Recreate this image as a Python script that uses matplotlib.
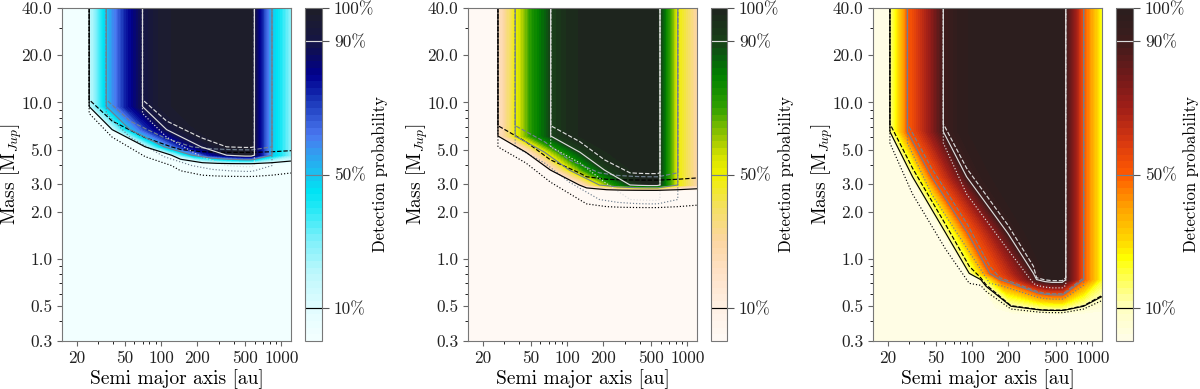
import numpy as np
import matplotlib
matplotlib.use('Agg')
import matplotlib.pyplot as plt
from matplotlib.colors import LinearSegmentedColormap
from matplotlib.ticker import NullFormatter

plt.rcParams['font.family'] = 'serif'
plt.rcParams['font.serif'] = ['cmr10']
plt.rcParams['mathtext.fontset'] = 'cm'
plt.rcParams['axes.formatter.use_mathtext'] = True
plt.rcParams['axes.unicode_minus'] = False

"""
Data read off the maps. Each map is a grid: rows are masses (bottom -> top),
columns carry the detection probability seen at high mass, and each row
holds the separations of those columns (the inner edge moves out at low mass).
"""
# ---- left map (blue) ----
blue_prob = [0, 0, 0.18, 0.5, 0.75, 0.9, 0.96, 1.0, 1.0, 0.9, 0.5, 0.27]
blue_on = [0, 0, 1, 1, 1, 1, 1]
blue_sep = [
    [15, 160, 170, 230, 300, 380, 440, 510, 560, 596, 834, 1200],
    [15, 160, 170, 230, 300, 380, 440, 510, 560, 596, 834, 1200],
    [15, 118, 125, 180, 250, 350, 430, 500, 560, 596, 834, 1200],
    [15, 71, 76, 106, 150, 215, 280, 380, 560, 596, 834, 1200],
    [15, 38, 40, 55, 79, 111, 150, 237, 560, 596, 834, 1200],
    [15, 25.0, 25.4, 35, 50, 70, 95, 150, 560, 596, 834, 1200],
    [15, 25.0, 25.4, 35, 50, 70, 95, 150, 560, 596, 834, 1200],
]
blue_mass = [0.3, 4.0, 4.6, 5.2, 6.7, 9.4, 40]
blue_mass_dash = [0.3, 4.75, 5.2, 5.95, 7.6, 10.4, 40]
blue_mass_dot = [0.3, 3.3, 3.95, 4.5, 6.0, 8.5, 40]

# ---- middle map (green) ----
green_prob = [0, 0, 0.2, 0.5, 0.75, 0.9, 0.96, 1.0, 1.0, 0.9, 0.5, 0.28]
green_on = [0, 0, 1, 1, 1, 1, 1]
green_sep = [
    [15, 150, 160, 220, 290, 370, 420, 490, 560, 591, 831, 1200],
    [15, 150, 160, 220, 290, 370, 420, 490, 560, 591, 831, 1200],
    [15, 122, 130, 185, 250, 333, 390, 470, 560, 591, 831, 1200],
    [15, 70, 75, 104, 146, 204, 277, 400, 560, 591, 831, 1200],
    [15, 44, 47, 65, 91, 128, 173, 262, 560, 591, 831, 1200],
    [15, 26.4, 26.8, 37, 52, 73, 99, 150, 560, 591, 831, 1200],
    [15, 26.4, 26.8, 37, 52, 73, 99, 150, 560, 591, 831, 1200],
]
green_mass = [0.3, 2.72, 2.97, 3.7, 4.8, 6.1, 40]
green_mass_dash = [0.3, 3.15, 3.55, 4.3, 5.6, 7.1, 40]
green_mass_dot = [0.3, 2.1, 2.4, 3.1, 4.1, 5.2, 40]

# ---- right map (red) ----
red_prob = [0, 0, 0.13, 0.5, 0.9, 0.97, 1.0, 1.0, 0.9, 0.5, 0.22]
red_on = [0, 0, 1, 1, 1, 1, 1, 1]
red_sep = [
    [15, 150, 165, 220, 370, 420, 480, 560, 600, 845, 1200],
    [15, 150, 165, 220, 370, 420, 480, 560, 600, 845, 1200],
    [15, 110, 120, 170, 343, 400, 460, 560, 600, 845, 1200],
    [15, 90, 96, 140, 323, 380, 440, 560, 600, 845, 1200],
    [15, 57, 61.5, 92, 198, 250, 330, 560, 600, 845, 1200],
    [15, 30.5, 32.4, 46, 90, 123, 187, 560, 600, 845, 1200],
    [15, 20.5, 20.8, 29, 57.6, 79, 120, 560, 600, 845, 1200],
    [15, 20.5, 20.8, 29, 57.6, 79, 120, 560, 600, 845, 1200],
]
red_mass = [0.3, 0.44, 0.74, 0.81, 1.46, 3.35, 6.5, 40]
red_mass_dash = [0.3, 0.44, 0.76, 0.9, 1.65, 3.8, 7.3, 40]
red_mass_dot = [0.3, 0.43, 0.68, 0.70, 1.15, 2.6, 5.5, 40]

x_ticks = [20, 50, 100, 200, 500, 1000]
y_ticks = [0.3, 0.5, 1, 2, 3, 5, 10, 20, 40]
y_labels = ['0.3', '0.5', '1.0', '2.0', '3.0', '5.0', '10.0', '20.0', '40.0']
cb_ticks = [0.1, 0.5, 0.9, 1.0]
cb_labels = ['10%', '50%', '90%', '100%']
line_levels = [0.1, 0.5, 0.9]
line_colors = ['black', '#708090', '#dcdcdc']

# colour maps
cmap_blue = LinearSegmentedColormap.from_list('blue', [
    (0, '#f4ffff'), (0.1, '#e0fcff'), (0.2, '#bef8fc'), (0.3, '#80f0fa'),
    (0.4, '#20e8f5'), (0.45, '#00e4f4'), (0.5, '#18c4f0'), (0.62, '#4a78f0'),
    (0.72, '#1a36b8'), (0.8, '#000090'), (0.86, '#0c0c5e'), (0.9, '#151545'),
    (1.0, '#1e1e28')])
cmap_green = LinearSegmentedColormap.from_list('green', [
    (0, '#fffaf5'), (0.1, '#fff0e4'), (0.2, '#ffe2c8'), (0.3, '#fcd6a2'),
    (0.4, '#f4e060'), (0.5, '#f0f000'), (0.55, '#d8e400'), (0.6, '#a8cc00'),
    (0.65, '#70b800'), (0.7, '#30a000'), (0.8, '#008000'), (0.86, '#0a5a10'),
    (0.9, '#184018'), (1.0, '#1e231e')])
cmap_red = LinearSegmentedColormap.from_list('red', [
    (0, '#fffde8'), (0.1, '#ffffc0'), (0.2, '#ffff40'), (0.25, '#ffff00'),
    (0.3, '#ffd800'), (0.4, '#ffa000'), (0.45, '#ff8000'), (0.5, '#ff5a00'),
    (0.6, '#d83810'), (0.7, '#a01e18'), (0.8, '#701a1a'), (0.9, '#3e1c1c'),
    (1.0, '#2a1e1e')])

fig = plt.figure(figsize=(12, 3.89), dpi=100)

panels = [
    (62, 305, 17, blue_sep, blue_mass, blue_mass_dash, blue_mass_dot, blue_prob, blue_on, cmap_blue),
    (468, 711, 16, green_sep, green_mass, green_mass_dash, green_mass_dot, green_prob, green_on, cmap_green),
    (873, 1116, 17, red_sep, red_mass, red_mass_dash, red_mass_dot, red_prob, red_on, cmap_red),
]

W, H = 1200., 389.
for x0, cx0, cw, sep, mass, mass_dash, mass_dot, prob, on, cmap in panels:
    ax = fig.add_axes([x0 / W, 48 / H, 229 / W, 333 / H])
    cax = fig.add_axes([cx0 / W, 48 / H, cw / W, 333 / H])

    X = np.array(sep, dtype=float)
    Z = np.array(on, dtype=float)[:, None] * np.array(prob, dtype=float)[None, :]
    Y = np.array(mass, dtype=float)[:, None] * np.ones_like(X)

    cf = ax.contourf(X, Y, Z, levels=np.linspace(0, 1, 51), cmap=cmap, vmin=0, vmax=1)

    # other two models: dashed and dotted
    for m, ls in [(mass_dash, '--'), (mass_dot, ':')]:
        Ym = np.array(m, dtype=float)[:, None] * np.ones_like(X)
        ax.contour(X, Ym, Z, levels=line_levels, colors=line_colors,
                   linestyles=ls, linewidths=0.85)
    cs = ax.contour(X, Y, Z, levels=line_levels, colors=line_colors,
                    linestyles='-', linewidths=0.85)

    ax.set_xscale('log')
    ax.set_yscale('log')
    ax.set_xlim(15, 1200)
    ax.set_ylim(0.3, 40)
    ax.set_xticks(x_ticks)
    ax.set_xticklabels([str(t) for t in x_ticks])
    ax.set_yticks(y_ticks)
    ax.set_yticklabels(y_labels)
    ax.xaxis.set_minor_formatter(NullFormatter())
    ax.yaxis.set_minor_formatter(NullFormatter())
    ax.tick_params(labelsize=12.5, color='#666666', labelcolor='#222222')
    for s in ax.spines.values():
        s.set_edgecolor('#777777')
    ax.set_xlabel('Semi major axis [au]', fontsize=14, labelpad=2)
    ax.set_ylabel('Mass [M$_{Jup}$]', fontsize=14)
    ax.yaxis.set_label_coords(-0.165, 0.5)

    cb = fig.colorbar(cf, cax=cax, ticks=cb_ticks)
    cb.ax.set_yticklabels(cb_labels)
    cb.add_lines(cs)
    cb.ax.minorticks_off()
    cb.ax.tick_params(labelsize=12.5, length=5, color='#555555', labelcolor='#222222')
    cb.outline.set_edgecolor('#777777')
    cb.set_label('Detection probability', fontsize=12)
    cb.ax.yaxis.set_label_coords(67.0 / cw, 0.5)

fig.savefig('out.png', dpi=100)
